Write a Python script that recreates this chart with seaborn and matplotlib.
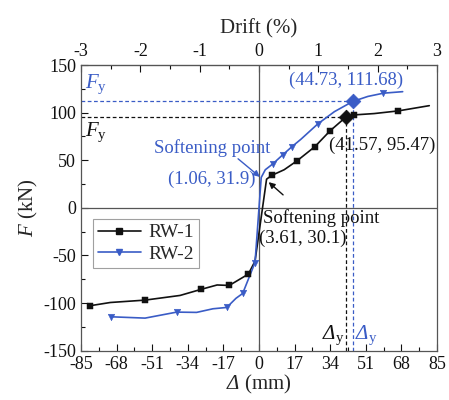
import numpy as np
import pandas as pd
import seaborn as sns
import matplotlib.pyplot as plt
from matplotlib.lines import Line2D
from matplotlib.ticker import MultipleLocator

# curve points (mm, kN)
rw1_x = [-80.7, -71, -54.4, -37.7, -27.8, -20, -14.2, -5.1, -1.9, 3.61, 6, 12, 18.3, 26.7, 33.9, 41.57, 45.5, 55, 66.5, 81.3]
rw1_y = [-102.8, -99.4, -96.9, -92, -85.7, -81, -81.5, -69.6, -56, 30.1, 34, 40, 49.6, 64.3, 80.8, 95.47, 97.6, 99, 101.8, 107.3]
rw1_mx = [-80.7, -54.4, -27.8, -14.2, -5.1, 6, 18.3, 26.7, 33.9, 45.5, 66.5]
rw1_my = [-102.8, -96.9, -85.7, -81.5, -69.6, 34, 49.6, 64.3, 80.8, 97.6, 101.8]

rw2_x = [-70.7, -54.4, -39.3, -29.8, -22, -15.4, -11, -7.8, -1.9, 1.06, 3, 6.5, 11.5, 15.6, 20, 28, 36, 44.73, 52, 59.4, 68.6]
rw2_y = [-114.4, -115.8, -109.5, -109.8, -106, -104.6, -95, -89.9, -57.4, 31.9, 40, 46, 56, 64, 72, 88, 101, 111.68, 117, 120.4, 122]
rw2_mx = [-70.7, -39.3, -15.4, -7.8, -1.9, 6.5, 11.5, 15.6, 28, 59.4]
rw2_my = [-114.4, -109.5, -104.6, -89.9, -57.4, 46, 56, 64, 88, 120.4]

yield1 = (41.57, 95.47)
yield2 = (44.73, 111.68)

BLUE = '#3a5cc6'
BLACK = '#111111'

sns.set_style('ticks')
plt.rcParams['font.family'] = ['Liberation Serif', 'DejaVu Serif']
plt.rcParams['mathtext.fontset'] = 'custom'
plt.rcParams['mathtext.rm'] = 'Liberation Serif'
plt.rcParams['mathtext.it'] = 'Liberation Serif:italic'
plt.rcParams['mathtext.sf'] = 'Liberation Serif:italic'  # italic Greek via \mathsf
plt.rcParams['axes.unicode_minus'] = False

fig = plt.figure(figsize=(4.49, 4.0), dpi=100)
ax = fig.add_axes([0.1804, 0.1233, 0.7929, 0.7142])

ax.axhline(0, color='#555555', lw=0.9, zorder=1)
ax.axvline(0, color='#555555', lw=0.9, zorder=1)

# yield guide lines
for (xx, yy), c in [(yield1, BLACK), (yield2, BLUE)]:
    ax.plot([-85, xx], [yy, yy], ls=(0, (3, 2)), color=c, lw=0.9, zorder=2)
    ax.plot([xx, xx], [-150, yy], ls=(0, (3, 2)), color=c, lw=0.9, zorder=2)

d1 = pd.DataFrame({'x': rw1_x, 'y': rw1_y})
d2 = pd.DataFrame({'x': rw2_x, 'y': rw2_y})
sns.lineplot(data=d1, x='x', y='y', sort=False, estimator=None, color=BLACK, lw=1.2, ax=ax, zorder=3)
sns.lineplot(data=d2, x='x', y='y', sort=False, estimator=None, color=BLUE, lw=1.2, ax=ax, zorder=3)
sns.scatterplot(x=rw1_mx, y=rw1_my, marker='s', s=17, color=BLACK, edgecolor=BLACK, ax=ax, zorder=4)
sns.scatterplot(x=rw2_mx, y=rw2_my, marker='v', s=22, color=BLUE, edgecolor=BLUE, ax=ax, zorder=4)
sns.scatterplot(x=[yield1[0]], y=[yield1[1]], marker='D', s=55, color=BLACK, edgecolor=BLACK, ax=ax, zorder=5)
sns.scatterplot(x=[yield2[0]], y=[yield2[1]], marker='D', s=55, color=BLUE, edgecolor=BLUE, ax=ax, zorder=5)

ax.set_xlim(-85, 85)
ax.set_ylim(-150, 150)
ax.xaxis.set_major_locator(MultipleLocator(17))
ax.xaxis.set_minor_locator(MultipleLocator(8.5))
ax.yaxis.set_major_locator(MultipleLocator(50))
ax.yaxis.set_minor_locator(MultipleLocator(25))
ax.tick_params(which='both', direction='in', labelsize=13, colors='#111111')
ax.tick_params(which='major', length=5, width=0.8)
ax.tick_params(which='minor', length=3, width=0.8)
for s in ax.spines.values():
    s.set_color('#555555')
    s.set_linewidth(0.9)

ax.set_xlabel(r'$\mathsf{\Delta}$ (mm)', fontsize=15, labelpad=0)
ax.set_ylabel(r'$F$ (kN)', fontsize=15, labelpad=2)

top = ax.secondary_xaxis('top', functions=(lambda v: v / (85 / 3), lambda v: v * (85 / 3)))
top.xaxis.set_major_locator(MultipleLocator(1))
top.xaxis.set_minor_locator(MultipleLocator(0.5))
top.tick_params(which='both', direction='in', labelsize=13, colors='#111111')
top.tick_params(which='major', length=5, width=0.8)
top.tick_params(which='minor', length=3, width=0.8)
top.set_xlabel('Drift (%)', fontsize=15, labelpad=7)

fs = 13.5
ax.text(41.6, 134, '(44.73, 111.68)', color=BLUE, fontsize=fs, ha='center', va='center')
ax.text(58.7, 66, '(41.57, 95.47)', color=BLACK, fontsize=fs, ha='center', va='center')
ax.text(-22.3, 62.6, 'Softening point', color=BLUE, fontsize=fs, ha='center', va='center')
ax.text(-22.8, 29.4, '(1.06, 31.9)', color=BLUE, fontsize=fs, ha='center', va='center')
ax.text(29.9, -10.8, 'Softening point', color=BLACK, fontsize=fs, ha='center', va='center')
ax.text(20.8, -31.8, '(3.61, 30.1)', color=BLACK, fontsize=fs, ha='center', va='center')
ax.annotate('', xy=(0.4, 32.5), xytext=(-10, 51.5),
            arrowprops=dict(arrowstyle='-|>', color=BLUE, lw=1.0, mutation_scale=9, shrinkA=0, shrinkB=0))
ax.annotate('', xy=(4.6, 27), xytext=(11.5, 13.6),
            arrowprops=dict(arrowstyle='-|>', color=BLACK, lw=1.0, mutation_scale=9, shrinkA=0, shrinkB=0))

ax.text(-83, 117, r'$F_{\rm y}$', color=BLUE, fontsize=15, ha='left', va='bottom')
ax.text(-83, 92, r'$F_{\rm y}$', color=BLACK, fontsize=15, ha='left', va='top')
ax.text(41.0, -146, r'$\mathsf{\Delta}_{\rm y}$', color=BLACK, fontsize=15, ha='right', va='bottom')
ax.text(45.6, -146, r'$\mathsf{\Delta}_{\rm y}$', color=BLUE, fontsize=15, ha='left', va='bottom')

handles = [Line2D([], [], color=BLACK, lw=1.2, marker='s', ms=4),
           Line2D([], [], color=BLUE, lw=1.2, marker='v', ms=4.5)]
leg = ax.legend(handles, ['RW-1', 'RW-2'], loc='upper left', bbox_to_anchor=(0.034, 0.461),
                borderaxespad=0, fontsize=14, frameon=True, fancybox=False, handlelength=2.2,
                handletextpad=0.4, borderpad=0.25, labelspacing=0.2)
leg.get_frame().set_edgecolor('#888888')
leg.get_frame().set_linewidth(0.8)

fig.savefig('out.png', dpi=100)
